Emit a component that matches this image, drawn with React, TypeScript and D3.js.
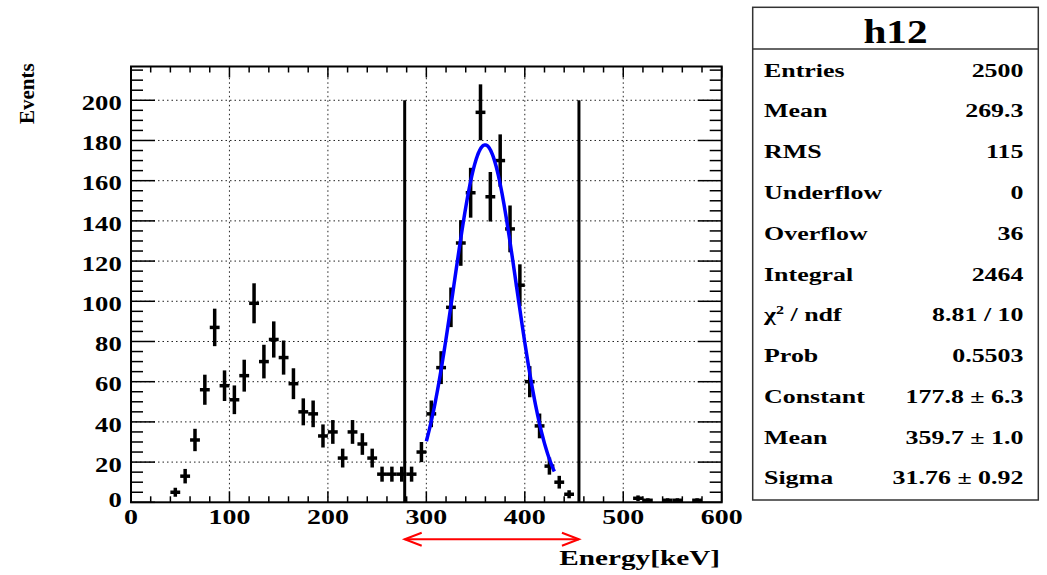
import React from "react";
import * as d3 from "d3";

// ---- data ----
const binCenters = [45, 55, 65, 75, 85, 95, 105, 115, 125, 135, 145, 155, 165, 175, 185, 195, 205, 215, 225, 235, 245, 255, 265, 275, 285, 295, 305, 315, 325, 335, 345, 355, 365, 375, 385, 395, 405, 415, 425, 435, 445, 515, 525, 545, 555, 575];
const binCounts = [5, 13, 31, 56, 87, 58, 51, 63, 99, 70, 81, 72, 59, 45, 44, 33, 35, 22, 35, 29, 22, 14, 14, 14, 14, 25, 44, 67, 97, 129, 154, 194, 152, 170, 136, 108, 60, 38, 18, 10, 4, 2, 1, 1, 1, 1];
const binWidth = 10;

const fitConstant = 177.8;
const fitMean = 359.7;
const fitSigma = 31.76;
const fitRange = [300, 430];

const windowLines = [278, 455];
const windowTop = 200;

const xTicks = [0, 100, 200, 300, 400, 500, 600];
const yTicks = [0, 20, 40, 60, 80, 100, 120, 140, 160, 180, 200];

const statTitle = "h12";
const statLabels = ["Entries", "Mean", "RMS", "Underflow", "Overflow", "Integral", "CHI", "Prob", "Constant", "Mean", "Sigma"];
const statValues = ["2500", "269.3", "115", "0", "36", "2464", "8.81 / 10", "0.5503", "177.8 ± 6.3", "359.7 ± 1.0", "31.76 ± 0.92"];

const xTitle = "Energy[keV]";
const yTitle = "Events";

// ---- layout ----
const W = 1047, H = 575;
const L = 131, R = 721.7, T = 66.5, B = 502.3;
const FONT = "'Liberation Serif', 'Times New Roman', serif";
const SX = 1.33;

const x = d3.scaleLinear().domain([0, 600]).range([L, R]);
const y = d3.scaleLinear().domain([0, 216.8]).range([B, T]);

function Txt({ x, y, size, anchor = "start", sx = SX, children }: any) {
  return (
    <text
      transform={`translate(${x},${y}) scale(${sx},1)`}
      fontFamily={FONT}
      fontWeight="bold"
      fontSize={size}
      textAnchor={anchor}
      fill="#000"
    >
      {children}
    </text>
  );
}

export default function App() {
  const xMinor = d3.range(0, 601, 20);
  const yMinor = d3.range(0, 216, 5);
  const fitPts = d3.range(fitRange[0], fitRange[1] + 0.01, 1).map((e) => [
    e,
    fitConstant * Math.exp(-0.5 * ((e - fitMean) / fitSigma) ** 2),
  ]);
  const fitLine = d3
    .line<number[]>()
    .x((d) => x(d[0]))
    .y((d) => y(d[1]))
    .curve(d3.curveLinear)(fitPts as any);

  const boxL = 752.7, boxR = 1038.3, boxT = 7.3, boxB = 500, sepY = 49;
  const rowY0 = 76.7, rowStep = 40.76;

  return (
    <svg
      width={W}
      height={H}
      viewBox={`0 0 ${W} ${H}`}
      style={{ position: "absolute", left: 0, top: 0, background: "#fff" }}
    >
      <rect x={0} y={0} width={W} height={H} fill="#fff" />
      {/* grid */}
      <g stroke="#222" strokeWidth={1} strokeDasharray="1.5 3">
        {xTicks.slice(1, -1).map((t) => (
          <line key={"gx" + t} x1={x(t)} x2={x(t)} y1={B} y2={T} />
        ))}
        {yTicks.slice(1).map((t) => (
          <line key={"gy" + t} x1={L} x2={R} y1={y(t)} y2={y(t)} />
        ))}
      </g>
      {/* ticks */}
      <g stroke="#000" strokeWidth={1.5}>
        {xMinor.map((t) => {
          const len = t % 100 === 0 ? 11 : 6;
          return (
            <g key={"xt" + t}>
              <line x1={x(t)} x2={x(t)} y1={B} y2={B - len} />
              <line x1={x(t)} x2={x(t)} y1={T} y2={T + len} />
            </g>
          );
        })}
        {yMinor.map((t) => {
          const len = t % 20 === 0 ? 24 : 12;
          return (
            <g key={"yt" + t}>
              <line x1={L} x2={L + len} y1={y(t)} y2={y(t)} />
              <line x1={R} x2={R - len} y1={y(t)} y2={y(t)} />
            </g>
          );
        })}
      </g>
      {/* data points with error bars */}
      <g stroke="#000" strokeWidth={3.5}>
        {binCenters.map((c, i) => {
          const n = binCounts[i];
          const e = Math.sqrt(n);
          return (
            <g key={"p" + i}>
              <line x1={x(c - binWidth / 2)} x2={x(c + binWidth / 2)} y1={y(n)} y2={y(n)} />
              <line x1={x(c)} x2={x(c)} y1={y(Math.max(0, n - e))} y2={y(n + e)} />
            </g>
          );
        })}
      </g>
      {/* window lines */}
      <g stroke="#000" strokeWidth={3}>
        {windowLines.map((v) => (
          <line key={"w" + v} x1={x(v)} x2={x(v)} y1={B} y2={y(windowTop)} />
        ))}
      </g>
      {/* fit */}
      <path d={fitLine || ""} fill="none" stroke="#0000ff" strokeWidth={3.5} strokeLinejoin="round" />
      {/* frame */}
      <rect x={L} y={T} width={R - L} height={B - T} fill="none" stroke="#000" strokeWidth={2} />
      {/* y tick labels */}
      {yTicks.map((t) => (
        <Txt key={"yl" + t} x={121.7} y={t === 0 ? 507 : y(t) + 9.8} size={20} anchor="end">
          {t}
        </Txt>
      ))}
      {/* x tick labels */}
      {xTicks.map((t) => (
        <Txt key={"xl" + t} x={x(t)} y={523.5} size={21} anchor="middle">
          {t}
        </Txt>
      ))}
      {/* axis titles */}
      <Txt x={720} y={565} size={22} anchor="end">
        {xTitle}
      </Txt>
      <text
        transform="translate(34,63.3) rotate(-90) scale(1.05,1.1)"
        fontFamily={FONT}
        fontWeight="bold"
        fontSize={20}
        textAnchor="end"
      >
        {yTitle}
      </text>
      {/* red double arrow */}
      <g stroke="#ff0000" strokeWidth={2} fill="none">
        <line x1={x(windowLines[0])} x2={x(windowLines[1])} y1={539.3} y2={539.3} />
        <polyline
          points={`${x(windowLines[0]) + 17},${539.3 - 6.5} ${x(windowLines[0])},539.3 ${x(windowLines[0]) + 17},${539.3 + 6.5}`}
        />
        <polyline
          points={`${x(windowLines[1]) - 17},${539.3 - 6.5} ${x(windowLines[1])},539.3 ${x(windowLines[1]) - 17},${539.3 + 6.5}`}
        />
      </g>
      {/* stats box */}
      <rect x={boxL} y={boxT} width={boxR - boxL} height={boxB - boxT} fill="#fff" stroke="#333" strokeWidth={1.5} />
      <line x1={boxL} x2={boxR} y1={sepY} y2={sepY} stroke="#333" strokeWidth={1.5} />
      <Txt x={(boxL + boxR) / 2} y={43.3} size={33} anchor="middle" sx={1.25}>
        {statTitle}
      </Txt>
      {statLabels.map((lab, i) => (
        <g key={"s" + i}>
          <Txt x={764} y={rowY0 + i * rowStep} size={19.5}>
            {lab === "CHI" ? (
              <>
                χ<tspan fontSize={12} dy={-7}>2</tspan>
                <tspan dy={7}> / ndf</tspan>
              </>
            ) : (
              lab
            )}
          </Txt>
          <Txt x={1023.5} y={rowY0 + i * rowStep} size={19.5} anchor="end">
            {statValues[i]}
          </Txt>
        </g>
      ))}
    </svg>
  );
}
